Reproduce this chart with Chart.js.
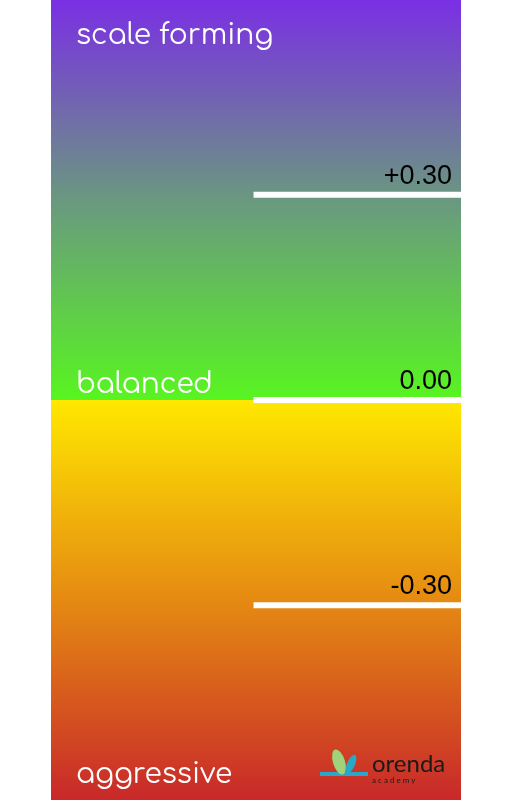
<!DOCTYPE html>
<html>
<head>
<meta charset="utf-8">
<script src="https://cdn.jsdelivr.net/npm/chart.js@4/dist/chart.umd.min.js"></script>
<style>
  html, body { margin: 0; padding: 0; background: #fff; }
  #wrap { width: 512px; height: 800px; }
</style>
</head>
<body>
<div id="wrap"><canvas id="scaleChart"></canvas></div>
<script>
// scale values and labels
var levels = [0.30, 0.00, -0.30];
var levelLabels = ["+0.30", "0.00", "-0.30"];
var zoneNames = ["scale forming", "balanced", "aggressive"];
var zoneValues = [0.535, 0.025, -0.545];
var yMax = 0.585;
var yMin = -0.585;
var markStart = 0.494;

function grad(ctx, top, bottom, cTop, cBottom) {
    var chart = ctx.chart;
    var area = chart.chartArea;
    if (!area) return cTop[0];
    var y = chart.scales.y;
    var g = chart.ctx.createLinearGradient(0, y.getPixelForValue(top), 0, y.getPixelForValue(bottom));
    g.addColorStop(0, cTop[0]);
    if (cTop[1]) g.addColorStop(0.5, cTop[1]);
    g.addColorStop(1, cBottom);
    return g;
}

var datasets = [
    {
        data: [{x: 0, y: yMax}, {x: 1, y: yMax}],
        fill: {value: 0},
        order: 5,
        borderWidth: 0,
        pointRadius: 0,
        backgroundColor: function (ctx) { return grad(ctx, yMax, 0, ["#7a2fe4", "#6a9880"], "#58f520"); }
    },
    {
        data: [{x: 0, y: yMin}, {x: 1, y: yMin}],
        fill: {value: 0},
        order: 5,
        borderWidth: 0,
        pointRadius: 0,
        backgroundColor: function (ctx) { return grad(ctx, 0, yMin, ["#ffe800", "#e58a12"], "#c8282a"); }
    }
];
levels.forEach(function (v) {
    datasets.push({
        data: [{x: markStart, y: v}, {x: 1, y: v}],
        order: 0,
        borderColor: "#ffffff",
        borderWidth: 6,
        pointRadius: 0,
        fill: false
    });
});

var textPlugin = {
    id: 'texts',
    afterDatasetsDraw: function (chart) {
        var c = chart.ctx, y = chart.scales.y;
        c.save();
        c.textBaseline = "alphabetic";
        c.fillStyle = "#000";
        c.font = "27px 'Liberation Sans'";
        c.textAlign = "right";
        levels.forEach(function (v, i) {
            c.fillText(levelLabels[i], 452, y.getPixelForValue(v) - 11);
        });
        c.fillStyle = "#fff";
        c.textAlign = "left";
        c.font = "28px Comfortaa, 'Lato', sans-serif";
        zoneNames.forEach(function (n, i) {
            c.fillText(n, 76, y.getPixelForValue(zoneValues[i]) + 10);
        });
        // logo
        c.fillStyle = "#2aa8c8";
        c.fillRect(320, 772, 48, 4);
        c.fillStyle = "#9fd27a";
        c.beginPath(); c.ellipse(339, 762, 6, 13, -0.3, 0, Math.PI * 2); c.fill();
        c.fillStyle = "#2aa8c8";
        c.beginPath(); c.ellipse(351, 764, 4, 10, 0.4, 0, Math.PI * 2); c.fill();
        c.fillStyle = "#1a1a1a";
        c.font = "24px Lato, sans-serif";
        c.fillText("orenda", 372, 772);
        c.font = "8px Lato, sans-serif";
        c.fillText("a c a d e m y", 372, 783);
        c.restore();
    }
};

new Chart(document.getElementById("scaleChart").getContext('2d'), {
    type: 'line',
    data: { datasets: datasets },
    options: {
        responsive: true,
        maintainAspectRatio: false,
        animation: false,
        layout: { padding: { left: 51, right: 51, top: 0, bottom: 0 } },
        plugins: { legend: { display: false }, tooltip: { enabled: false } },
        scales: {
            x: { type: 'linear', min: 0, max: 1, display: false },
            y: { type: 'linear', min: yMin, max: yMax, display: false }
        }
    },
    plugins: [textPlugin]
});
</script>
</body>
</html>
